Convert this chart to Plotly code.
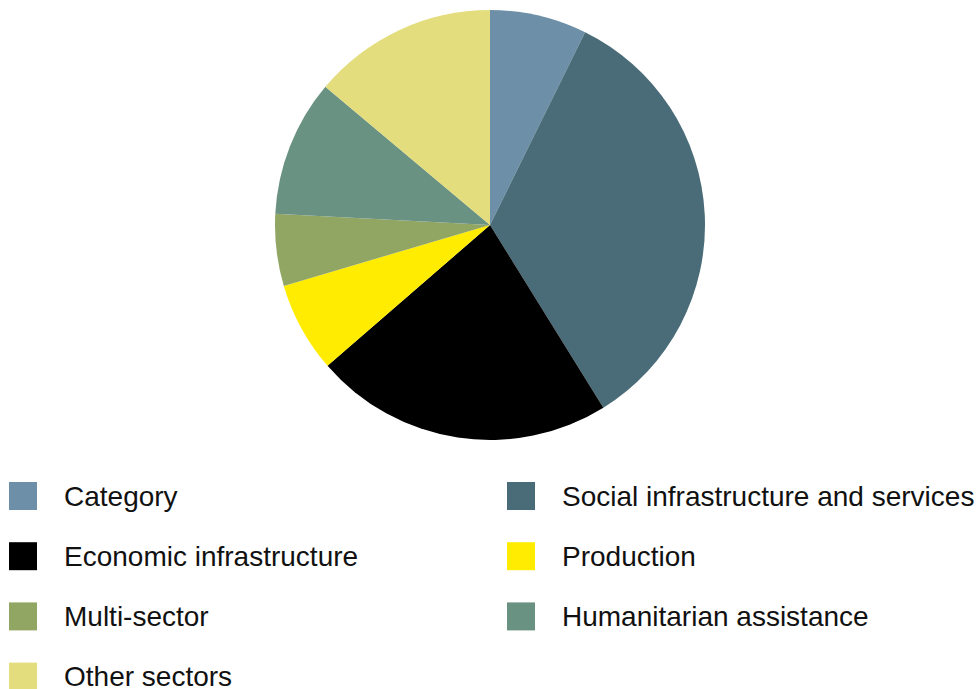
import plotly.graph_objects as go

labels = ["Category", "Social infrastructure and services", "Economic infrastructure",
          "Production", "Multi-sector", "Humanitarian assistance", "Other sectors"]
values = [7.3, 33.9, 22.5, 6.8, 5.4, 10.3, 13.9]
colors = ["#6e8fa8", "#4a6b78", "#000000", "#ffec00", "#92a664", "#6a9283", "#e3dd7e"]

W, H = 976, 689

fig = go.Figure(go.Pie(
    labels=labels, values=values, sort=False, direction="clockwise", rotation=0,
    marker=dict(colors=colors, line=dict(width=0)),
    textinfo="none", hoverinfo="label+percent", showlegend=False,
    domain=dict(x=[275 / W, 705 / W], y=[1 - 440 / H, 1 - 10 / H]),
))

# custom legend: 2 columns, row-major
col_x = [9, 507]
row_y0 = 496
row_dy = 60.2
sq = 28
shapes = []
annotations = []
for i, (lab, col) in enumerate(zip(labels, colors)):
    c = i % 2
    r = i // 2
    cx = col_x[c]
    cy = row_y0 + r * row_dy
    shapes.append(dict(type="rect", xref="paper", yref="paper",
                       x0=cx / W, x1=(cx + sq) / W,
                       y0=1 - (cy + sq / 2) / H, y1=1 - (cy - sq / 2) / H,
                       fillcolor=col, line=dict(width=0)))
    annotations.append(dict(xref="paper", yref="paper", x=(cx + 54) / W, y=1 - cy / H,
                            xanchor="left", yanchor="middle", showarrow=False,
                            borderpad=0,
                            text=lab, font=dict(size=28, color="#111111",
                                                family="Liberation Sans, Arial, sans-serif")))

fig.update_layout(width=W, height=H, margin=dict(l=0, r=0, t=0, b=0),
                  paper_bgcolor="white", plot_bgcolor="white",
                  shapes=shapes, annotations=annotations)
fig.write_html("out.html")
